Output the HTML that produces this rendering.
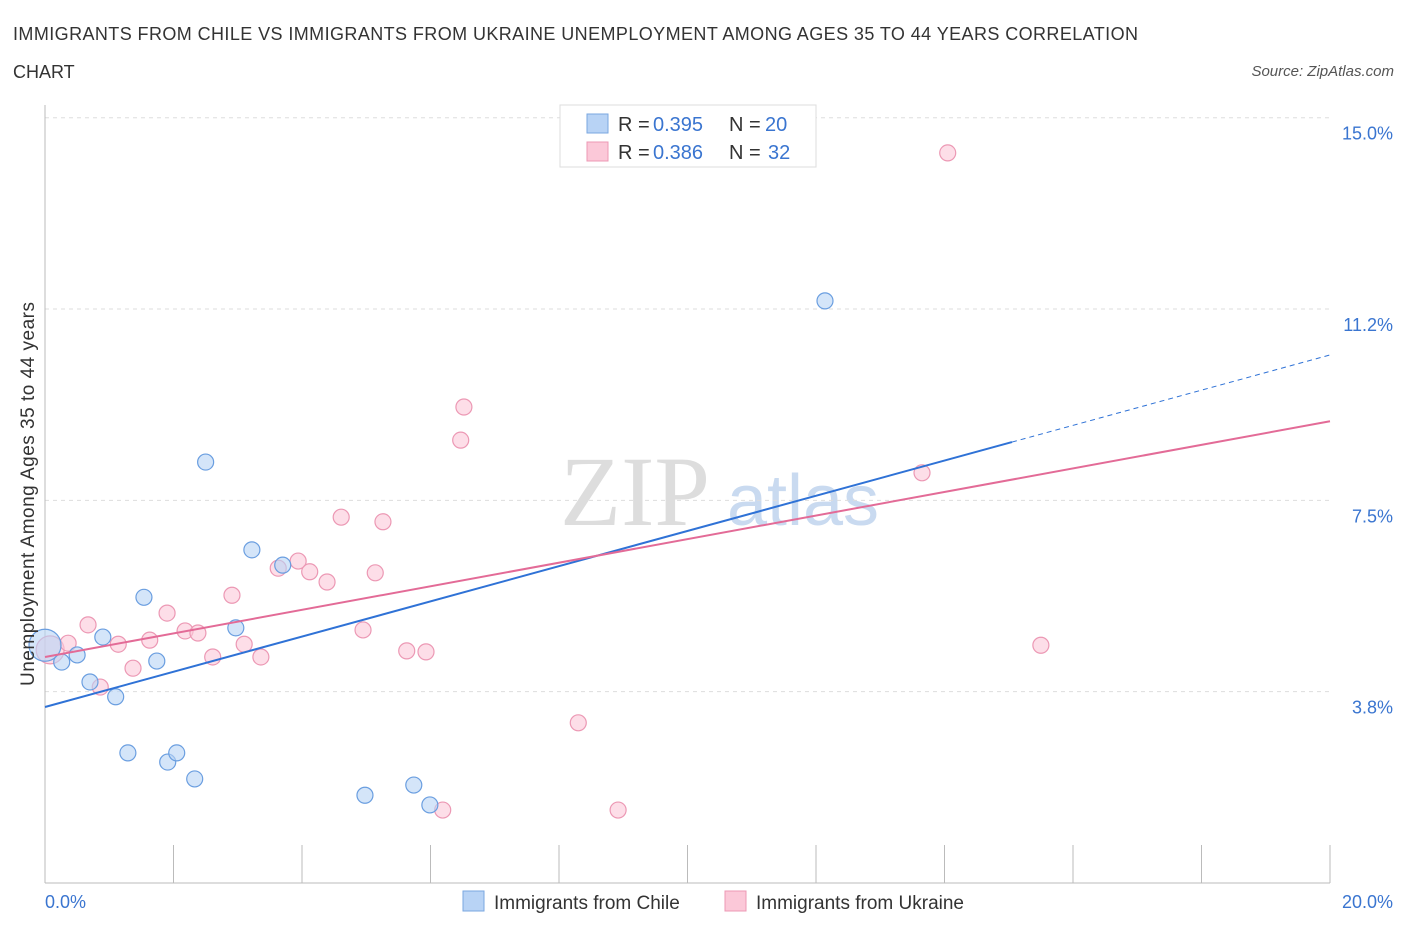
<!DOCTYPE html>
<html><head><meta charset="utf-8"><style>
body{margin:0;background:#fff;font-family:"Liberation Sans",sans-serif;}
#c{position:relative;width:1406px;height:930px;}
</style></head><body>
<div id="c">
<svg id="s" width="1406" height="930" xmlns="http://www.w3.org/2000/svg">
<text x="13" y="40" font-size="18" fill="#333" textLength="1125">IMMIGRANTS FROM CHILE VS IMMIGRANTS FROM UKRAINE UNEMPLOYMENT AMONG AGES 35 TO 44 YEARS CORRELATION</text>
<text x="13" y="78" font-size="18" fill="#333">CHART</text>
<text x="1394" y="76" font-size="15" fill="#555" font-style="italic" text-anchor="end">Source: ZipAtlas.com</text>
<text x="635" y="525" font-size="100" fill="#ddd" font-family="Liberation Serif" text-anchor="middle">ZIP</text>
<text x="803" y="525" font-size="72" fill="#c9daf0" text-anchor="middle">atlas</text>
<g id="grid"></g><g id="marks"></g>
<text transform="translate(34,494) rotate(-90)" font-size="19" fill="#333" text-anchor="middle" textLength="384">Unemployment Among Ages 35 to 44 years</text>
<rect x="560" y="105" width="256" height="62" fill="#fff" stroke="#ddd"/>
<rect x="587" y="114" width="21" height="19" fill="#b8d3f5" stroke="#7aa7e0"/>
<rect x="587" y="142" width="21" height="19" fill="#fbc8d8" stroke="#ec98b4"/>
<text y="131" font-size="20" fill="#333"><tspan x="618">R =</tspan><tspan x="653" fill="#3a75d0">0.395</tspan><tspan x="729">N =</tspan><tspan x="765" fill="#3a75d0">20</tspan></text>
<text y="159" font-size="20" fill="#333"><tspan x="618">R =</tspan><tspan x="653" fill="#3a75d0">0.386</tspan><tspan x="729">N =</tspan><tspan x="768" fill="#3a75d0">32</tspan></text>
<rect x="463" y="891" width="21" height="20" fill="#b8d3f5" stroke="#7aa7e0"/>
<text x="494" y="909" font-size="19" fill="#333">Immigrants from Chile</text>
<rect x="725" y="891" width="21" height="20" fill="#fbc8d8" stroke="#ec98b4"/>
<text x="756" y="909" font-size="19" fill="#333">Immigrants from Ukraine</text>
</svg>
</div>
<script>
const chileX=[0,0.26,0.5,0.7,0.9,1.1,1.29,1.54,1.74,1.91,2.05,2.33,2.5,2.97,3.22,3.7,4.98,5.74,5.99,12.14];
const chileY=[4.66,4.33,4.47,3.94,4.82,3.65,2.55,5.6,4.35,2.37,2.55,2.04,8.25,5.0,6.53,6.23,1.72,1.92,1.53,11.41];
const ukrX=[0.08,0.36,0.67,0.86,1.14,1.37,1.63,1.9,2.18,2.38,2.61,2.91,3.1,3.36,3.63,3.94,4.12,4.39,4.61,4.95,5.14,5.26,5.63,5.93,6.19,6.47,6.52,8.3,8.92,13.65,14.05,15.5];
const ukrY=[4.57,4.7,5.06,3.84,4.68,4.21,4.76,5.29,4.94,4.9,4.43,5.64,4.68,4.43,6.17,6.31,6.1,5.9,7.17,4.96,6.08,7.08,4.55,4.53,1.43,8.68,9.33,3.14,1.43,8.04,14.31,4.66];
const yTicks=[15,11.25,7.5,3.75];
const yTickLabels=["15.0%","11.2%","7.5%","3.8%"];
const xTicks=[0,2,4,6,8,10,12,14,16,18,20];
const chileTrend=[3.45,10.35], chileSolidEnd=15.05;
const ukrTrend=[4.43,9.05];
const NS="http://www.w3.org/2000/svg";
const X=v=>45+v*64.25, Y=v=>883-v*51.02;
function mk(t,a,p){const e=document.createElementNS(NS,t);for(const k in a)e.setAttribute(k,a[k]);p.appendChild(e);return e;}
const g=document.getElementById('grid'), m=document.getElementById('marks');
yTicks.forEach((t,i)=>{
 const l=mk('line',{x1:45,x2:1330,y1:Y(t),y2:Y(t),stroke:'#ddd','stroke-dasharray':'4,4'},g);
 
 const tx=mk('text',{x:1393,y:Y(t)+22,'font-size':18,fill:'#3a75d0','text-anchor':'end'},g);
 tx.textContent=yTickLabels[i];
 
});
let ax=mk('line',{x1:45,x2:45,y1:105,y2:883,stroke:'#bbb'},g);

ax=mk('line',{x1:45,x2:1330,y1:883,y2:883,stroke:'#bbb'},g);

xTicks.forEach(t=>{const l=mk('line',{x1:X(t),x2:X(t),y1:845,y2:883,stroke:'#bbb'},g);
 });
let t0=mk('text',{x:45,y:908,'font-size':18,fill:'#3a75d0'},g);t0.textContent='0.0%';

t0=mk('text',{x:1393,y:908,'font-size':18,fill:'#3a75d0','text-anchor':'end'},g);t0.textContent='20.0%';

function pts(xs,ys,fill,stroke,name){xs.forEach((x,i)=>{const c=mk('circle',{cx:X(x),cy:Y(ys[i]),r:i==0?(name=='ukraine-point'?14:16):8,fill:fill,'fill-opacity':0.6,stroke:stroke,'stroke-width':1.2},m);
 });}
pts(ukrX,ukrY,'#fbc8d8','#ec98b4','ukraine-point');
pts(chileX,chileY,'#b8d3f5','#6a9ee0','chile-point');
const cy=v=>chileTrend[0]+(chileTrend[1]-chileTrend[0])*v/20;
let l=mk('line',{x1:X(0),y1:Y(chileTrend[0]),x2:X(chileSolidEnd),y2:Y(cy(chileSolidEnd)),stroke:'#2f72d6','stroke-width':2},m);

l=mk('line',{x1:X(chileSolidEnd),y1:Y(cy(chileSolidEnd)),x2:X(20),y2:Y(chileTrend[1]),stroke:'#2f72d6','stroke-width':1,'stroke-dasharray':'5,4'},m);

l=mk('line',{x1:X(0),y1:Y(ukrTrend[0]),x2:X(20),y2:Y(ukrTrend[1]),stroke:'#e36b97','stroke-width':2},m);

</script>
</body></html>
